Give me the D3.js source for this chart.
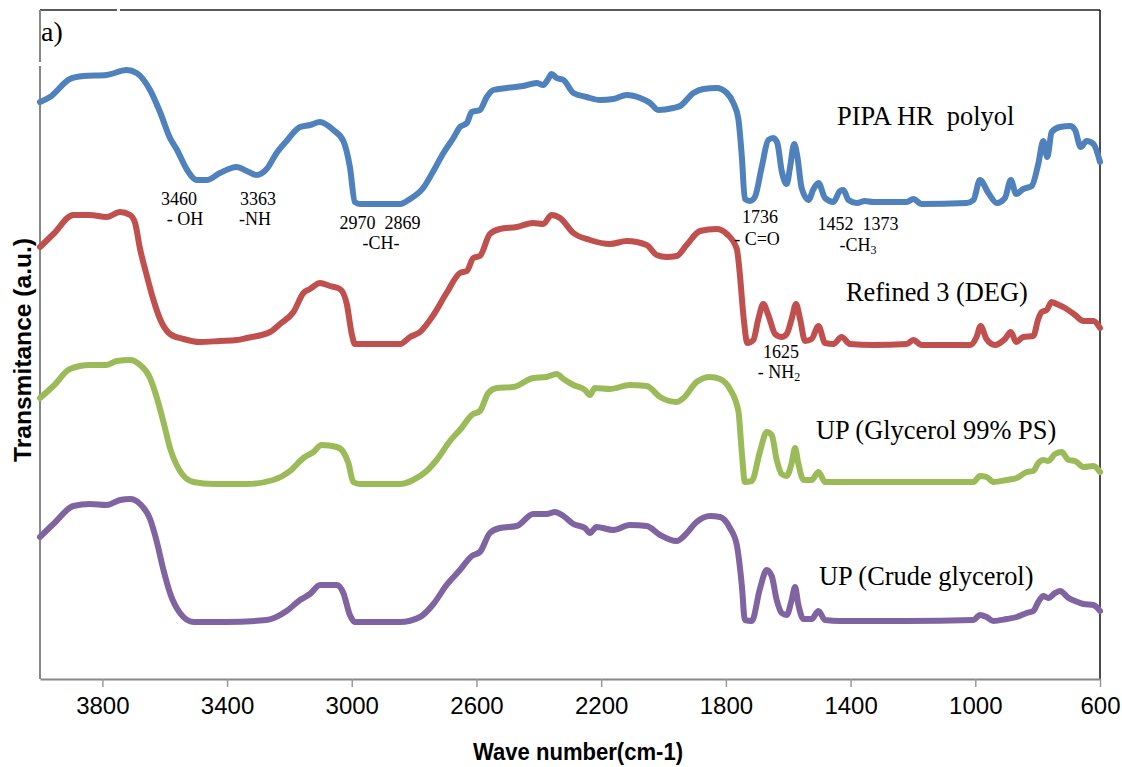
<!DOCTYPE html>
<html>
<head>
<meta charset="utf-8">
<script src="https://cdn.jsdelivr.net/npm/d3@7"></script>
<style>
  body { margin: 0; background: #fff; }
  svg text { white-space: pre; }
</style>
</head>
<body>
<script>
// FTIR spectra: [wave number, transmittance a.u.]
var pipaHR = [[4000,57.7],[3968,58.2],[3904,60.0],[3861,60.3],[3786,60.4],[3722,60.9],[3690,60.6],[3647,58.9],[3615,56.7],[3583,54.1],[3562,53.0],[3530,51.0],[3497,49.9],[3465,49.9],[3423,50.6],[3369,51.2],[3337,50.8],[3305,50.4],[3273,51.0],[3241,52.6],[3209,53.8],[3166,55.2],[3134,55.4],[3102,55.7],[3059,54.9],[3027,53.8],[3006,51.2],[2990,47.7],[2974,47.5],[2845,47.5],[2813,48.0],[2771,49.1],[2738,50.8],[2706,52.6],[2674,54.1],[2653,55.2],[2631,55.6],[2615,56.7],[2589,56.9],[2567,58.2],[2546,58.9],[2503,59.1],[2450,59.3],[2407,59.6],[2386,59.4],[2370,60.0],[2359,60.5],[2343,60.1],[2321,59.9],[2289,58.6],[2247,58.2],[2204,57.9],[2161,58.0],[2118,58.4],[2075,58.1],[2043,57.6],[2017,56.9],[1969,57.1],[1947,57.3],[1904,58.6],[1872,59.0],[1830,59.1],[1797,58.6],[1776,57.6],[1760,56.0],[1749,52.3],[1739,48.0],[1723,47.8],[1707,48.2],[1685,51.2],[1664,53.9],[1648,54.1],[1635,53.6],[1621,50.8],[1605,49.5],[1594,51.2],[1581,53.5],[1571,52.3],[1557,49.1],[1535,47.9],[1519,49.0],[1503,49.6],[1482,48.1],[1455,47.7],[1434,48.8],[1423,48.9],[1407,47.9],[1380,47.6],[1354,47.8],[1327,47.7],[1220,47.7],[1199,48.0],[1172,47.5],[1028,47.6],[1006,47.9],[985,49.9],[958,48.6],[931,47.6],[905,48.1],[886,49.9],[869,48.5],[846,49.0],[819,49.3],[798,51.5],[782,53.8],[769,52.2],[755,54.7],[728,55.2],[696,55.3],[680,54.9],[662,53.2],[643,53.8],[621,53.5],[600,51.7]];

var refinedDEG = [[4000,43.2],[3957,44.5],[3893,46.4],[3840,46.4],[3786,46.2],[3743,46.7],[3711,46.4],[3695,45.6],[3679,43.0],[3658,40.4],[3636,37.9],[3615,36.0],[3583,34.5],[3540,34.0],[3487,33.7],[3423,33.8],[3369,33.9],[3337,34.1],[3262,34.7],[3230,35.5],[3187,36.7],[3155,38.6],[3134,39.0],[3102,39.6],[3070,39.3],[3038,39.0],[3016,37.5],[3000,34.5],[2990,33.5],[2845,33.5],[2813,34.2],[2781,34.7],[2738,36.4],[2696,38.6],[2653,40.6],[2631,40.8],[2610,42.1],[2589,42.3],[2557,44.5],[2525,45.0],[2471,45.2],[2418,45.6],[2386,45.5],[2359,46.4],[2332,46.1],[2289,44.6],[2236,43.9],[2172,43.5],[2118,43.8],[2054,43.4],[2022,42.4],[1990,42.2],[1958,42.3],[1926,43.4],[1883,44.8],[1830,45.0],[1797,44.5],[1765,43.0],[1755,40.4],[1744,36.4],[1731,33.6],[1712,33.9],[1696,36.0],[1680,37.5],[1664,36.4],[1642,34.5],[1621,34.2],[1605,34.5],[1589,36.0],[1575,37.5],[1562,36.0],[1546,33.8],[1525,34.0],[1503,35.3],[1482,33.6],[1455,33.5],[1429,34.2],[1402,33.5],[1327,33.4],[1220,33.5],[1199,33.9],[1172,33.4],[1017,33.4],[996,34.2],[983,35.3],[964,34.0],[937,33.4],[905,34.0],[886,34.7],[869,33.7],[846,34.2],[814,34.3],[798,36.0],[787,36.7],[771,36.9],[755,37.7],[739,37.5],[712,37.1],[680,36.4],[653,35.8],[621,35.8],[600,35.1]];

var upGlycerol = [[4000,28.1],[3957,29.3],[3904,31.0],[3840,31.4],[3786,31.4],[3754,31.8],[3711,31.9],[3679,31.4],[3647,30.1],[3626,28.2],[3604,25.7],[3583,23.1],[3551,20.8],[3508,19.7],[3444,19.5],[3337,19.5],[3252,19.9],[3198,20.8],[3155,22.1],[3123,22.7],[3097,23.4],[3048,23.2],[3027,22.7],[3011,21.6],[2995,19.7],[2974,19.5],[2845,19.5],[2803,19.9],[2760,20.8],[2728,21.9],[2685,23.8],[2648,25.1],[2615,26.4],[2589,26.8],[2562,28.6],[2535,29.1],[2482,29.2],[2418,30.1],[2375,30.2],[2343,30.5],[2321,30.0],[2289,29.4],[2252,28.9],[2236,28.4],[2220,29.1],[2172,29.0],[2108,29.4],[2054,29.3],[2011,28.2],[1958,27.7],[1936,28.1],[1894,29.7],[1851,30.2],[1819,30.0],[1787,29.0],[1760,26.8],[1749,22.7],[1739,19.7],[1717,19.8],[1691,22.7],[1669,24.7],[1653,24.4],[1637,21.9],[1621,20.5],[1605,20.3],[1589,21.6],[1578,23.1],[1568,21.6],[1551,19.9],[1525,19.9],[1503,20.7],[1482,19.7],[1434,19.7],[1220,19.7],[1006,19.7],[985,20.3],[964,20.2],[942,19.7],[899,19.9],[867,20.1],[835,20.7],[814,20.8],[798,21.6],[782,21.9],[766,21.8],[744,22.5],[723,22.7],[701,21.9],[680,21.8],[653,21.2],[621,21.3],[600,20.7]];

var upCrude = [[4000,14.2],[3957,15.5],[3893,17.3],[3840,17.5],[3786,17.4],[3743,17.9],[3711,18.0],[3679,17.5],[3647,16.0],[3626,13.8],[3604,10.9],[3583,8.6],[3551,6.6],[3508,5.7],[3401,5.7],[3273,5.9],[3209,6.8],[3166,7.9],[3134,8.5],[3102,9.4],[3048,9.4],[3027,8.6],[3006,6.4],[2990,5.7],[2845,5.7],[2781,6.2],[2738,7.5],[2696,9.4],[2653,10.9],[2615,12.3],[2589,12.7],[2557,14.6],[2525,15.1],[2471,15.3],[2418,16.5],[2375,16.5],[2348,16.7],[2321,16.3],[2289,15.5],[2252,15.1],[2236,14.6],[2215,15.2],[2161,14.9],[2108,15.4],[2054,15.3],[2011,14.4],[1958,13.8],[1931,14.4],[1894,15.7],[1851,16.3],[1819,16.2],[1787,15.1],[1765,13.4],[1749,9.4],[1739,5.9],[1717,5.8],[1691,9.0],[1669,10.9],[1653,10.3],[1637,7.9],[1621,6.6],[1605,6.4],[1589,7.9],[1578,9.2],[1568,7.5],[1551,6.0],[1525,6.0],[1503,6.8],[1482,5.9],[1434,5.8],[1220,5.8],[1006,5.9],[985,6.4],[964,6.2],[942,5.8],[899,6.0],[867,6.2],[835,6.6],[814,6.8],[798,7.7],[782,8.3],[766,8.1],[744,8.6],[728,8.8],[701,8.1],[680,7.8],[653,7.5],[621,7.4],[600,6.8]];

var seriesNames = ["PIPA HR  polyol", "Refined 3 (DEG)", "UP (Glycerol 99% PS)", "UP (Crude glycerol)"];
var seriesData = [pipaHR, refinedDEG, upGlycerol, upCrude];
var seriesColors = ["#4f81bd", "#c0504d", "#9bbb59", "#8064a2"];
var xTicks = [3800, 3400, 3000, 2600, 2200, 1800, 1400, 1000, 600];

var width = 1122;
var height = 767;
var plotLeft = 40, plotRight = 1100, plotTop = 10, plotBottom = 679;

var svg = d3.select("body")
  .append("svg")
  .attr("width", width)
  .attr("height", height);

var x = d3.scaleLinear().domain([4000, 600]).range([plotLeft, plotRight]);
var y = d3.scaleLinear().domain([0, 66.9]).range([plotBottom, plotTop]);

// frame: grey axes left/bottom, dark top/right
svg.append("line").attr("x1", plotLeft).attr("x2", plotRight).attr("y1", plotTop).attr("y2", plotTop)
  .attr("stroke", "#222").attr("stroke-width", 1.5);
svg.append("line").attr("x1", plotRight).attr("x2", plotRight).attr("y1", plotTop).attr("y2", plotBottom)
  .attr("stroke", "#111").attr("stroke-width", 1.5);
svg.append("line").attr("x1", plotLeft).attr("x2", plotLeft).attr("y1", plotTop).attr("y2", plotBottom)
  .attr("stroke", "#888").attr("stroke-width", 2);

var xAxis = d3.axisBottom(x).tickValues(xTicks).tickFormat(d3.format("d"))
  .tickSize(8).tickSizeOuter(0).tickPadding(10);
var gx = svg.append("g")
  .attr("transform", "translate(0," + plotBottom + ")")
  .call(xAxis);
gx.select(".domain").attr("stroke", "#888").attr("stroke-width", 2);
gx.selectAll(".tick line").attr("stroke", "#999").attr("stroke-width", 1.5);
gx.selectAll(".tick text")
  .attr("font-family", "'Liberation Sans', Arial, sans-serif")
  .attr("font-size", 24)
  .attr("fill", "#000");

// little breaks in the frame around the "a)" box
svg.append("rect").attr("x", 37).attr("y", 62).attr("width", 6).attr("height", 4).attr("fill", "#fff");
svg.append("rect").attr("x", 117).attr("y", 8).attr("width", 3).attr("height", 4).attr("fill", "#fff");

var line = d3.line()
  .x(function(d) { return x(d[0]); })
  .y(function(d) { return y(d[1]); })
  .curve(d3.curveMonotoneX);

svg.append("g").selectAll("path")
  .data(seriesData)
  .enter()
  .append("path")
  .attr("fill", "none")
  .attr("stroke", function(d, i) { return seriesColors[i]; })
  .attr("stroke-width", 6)
  .attr("stroke-linejoin", "round")
  .attr("stroke-linecap", "round")
  .attr("d", line);

// axis titles
svg.append("text")
  .attr("x", 578).attr("y", 760)
  .attr("text-anchor", "middle")
  .attr("font-family", "'Liberation Sans', Arial, sans-serif")
  .attr("font-weight", "bold")
  .attr("font-size", 24)
  .attr("textLength", 210)
  .attr("lengthAdjust", "spacingAndGlyphs")
  .text("Wave number(cm-1)");

svg.append("text")
  .attr("transform", "translate(31,350) rotate(-90)")
  .attr("text-anchor", "middle")
  .attr("font-family", "'Liberation Sans', Arial, sans-serif")
  .attr("font-weight", "bold")
  .attr("font-size", 23)
  .attr("textLength", 224)
  .attr("lengthAdjust", "spacingAndGlyphs")
  .text("Transmitance (a.u.)");

// series names
var nameX = [837, 846, 816, 819];
var nameY = [125, 301, 439, 585];
svg.append("g").selectAll("text")
  .data(seriesNames)
  .enter()
  .append("text")
  .attr("x", function(d, i) { return nameX[i]; })
  .attr("y", function(d, i) { return nameY[i]; })
  .attr("font-family", "'Liberation Serif', 'Times New Roman', serif")
  .attr("font-size", 26.4)
  .text(function(d) { return d; });

// peak annotations
var peakLabels = [
  ["3460", 179, 205], ["- OH", 185, 225],
  ["3363", 258, 205], ["-NH", 255, 225],
  ["2970  2869", 380, 229], ["-CH-", 381, 249],
  ["1736", 760, 223], ["- C=O", 757, 245],
  ["1452  1373", 858, 230],
  ["1625", 781, 358]
];
svg.append("g").selectAll("text")
  .data(peakLabels)
  .enter()
  .append("text")
  .attr("x", function(d) { return d[1]; })
  .attr("y", function(d) { return d[2]; })
  .attr("text-anchor", "middle")
  .attr("font-family", "'Liberation Serif', 'Times New Roman', serif")
  .attr("font-size", 18)
  .text(function(d) { return d[0]; });

var ch3 = svg.append("text").attr("x", 858).attr("y", 251).attr("text-anchor", "middle")
  .attr("font-family", "'Liberation Serif', 'Times New Roman', serif").attr("font-size", 18);
ch3.append("tspan").text("-CH");
ch3.append("tspan").attr("font-size", 12).attr("dy", 3).text("3");

var nh2 = svg.append("text").attr("x", 779).attr("y", 378).attr("text-anchor", "middle")
  .attr("font-family", "'Liberation Serif', 'Times New Roman', serif").attr("font-size", 18);
nh2.append("tspan").text("- NH");
nh2.append("tspan").attr("font-size", 12).attr("dy", 3).text("2");

svg.append("text")
  .attr("x", 41).attr("y", 41)
  .attr("font-family", "'Liberation Serif', 'Times New Roman', serif")
  .attr("font-size", 28)
  .text("a)");
</script>
</body>
</html>
